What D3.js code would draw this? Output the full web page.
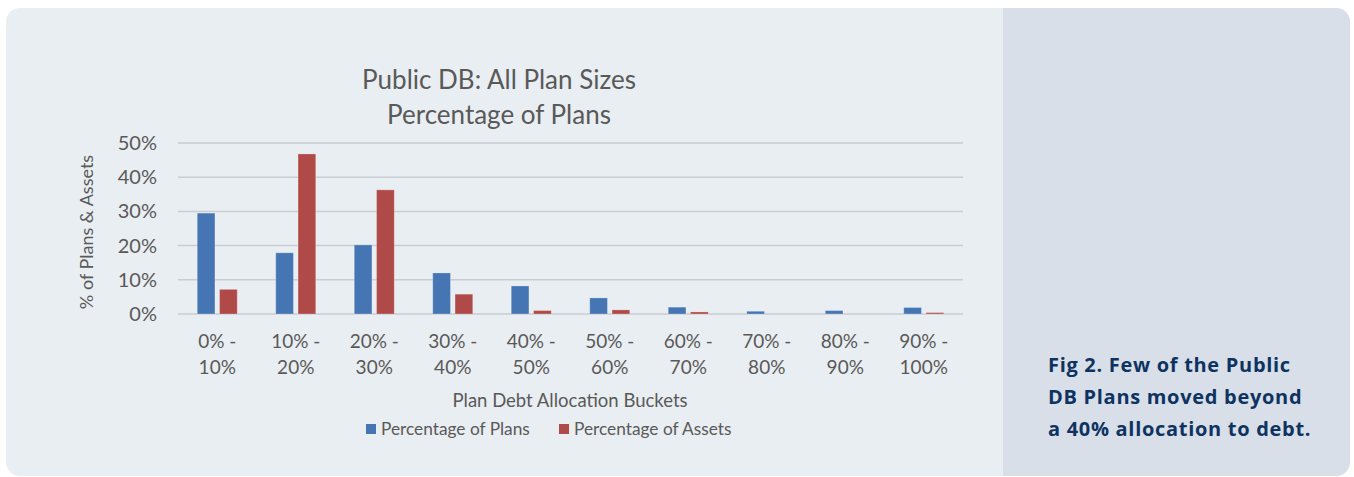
<!DOCTYPE html>
<html>
<meta charset="utf-8">
<style>
    body { margin: 0; background: #fff; }
    #card {
        position: absolute;
        left: 6px; top: 8px;
        width: 1344px; height: 468px;
        border-radius: 14px;
        overflow: hidden;
        background: #e9eef2;
    }
    #side {
        position: absolute;
        left: 997px; top: 0;
        width: 347px; height: 468px;
        background: #d8dfe8;
    }
    #note {
        position: absolute;
        left: 45px; top: 341px;
        font-family: "Open Sans", sans-serif;
        font-weight: 700;
        font-size: 20px;
        letter-spacing: 0.7px;
        line-height: 32px;
        color: #0f3361;
    }
    svg { position: absolute; left: 0; top: 0; }
    .tick text, .lbl { font-family: Lato, "Open Sans", sans-serif; fill: #595959; }
</style>
<body>
  <script src="https://d3js.org/d3.v7.min.js"></script>
<div id="card">
  <div id="side"><div id="note">Fig 2. Few of the Public<br>DB Plans moved beyond<br>a 40% allocation to debt.</div></div>
</div>
<svg id="chart" width="1354" height="477"></svg>
<script>
// chart data
var buckets = ["0% - 10%", "10% - 20%", "20% - 30%", "30% - 40%", "40% - 50%",
               "50% - 60%", "60% - 70%", "70% - 80%", "80% - 90%", "90% - 100%"];
var pctPlans  = [29.5, 17.9, 20.2, 12.0, 8.2, 4.7, 2.0, 0.8, 1.0, 1.9];
var pctAssets = [7.2, 46.8, 36.3, 5.8, 1.0, 1.2, 0.6, 0, 0, 0.4];
var yTicks = [0, 10, 20, 30, 40, 50];
var seriesNames = ["Percentage of Plans", "Percentage of Assets"];
var colors = ["#4675b4", "#b04a48"];

var svg = d3.select("#chart");

var x = d3.scaleBand().domain(buckets).range([178, 963]);
var y = d3.scaleLinear().domain([0, 50]).range([314, 143]);

// gridlines
svg.append("g").selectAll("line")
    .data(yTicks)
    .enter().append("line")
    .attr("x1", 178).attr("x2", 963)
    .attr("y1", function(d) { return y(d); })
    .attr("y2", function(d) { return y(d); })
    .attr("stroke", "#c9cdd3")
    .attr("stroke-width", 1.5);

// y axis labels
var yAxis = d3.axisLeft(y).tickValues(yTicks).tickSize(0).tickPadding(21)
    .tickFormat(function(d) { return d + "%"; });
var gy = svg.append("g").attr("transform", "translate(178,0)").call(yAxis);
gy.select(".domain").remove();
gy.selectAll("text").style("font-size", "20px");

// bars
var barW = 17.7, gap = 4.6;
var series = [pctPlans, pctAssets];
series.forEach(function(vals, s) {
    svg.append("g").selectAll("rect")
        .data(vals)
        .enter().append("rect")
        .attr("x", function(d, i) {
            var c = x(buckets[i]) + x.bandwidth() / 2;
            return s === 0 ? c - gap / 2 - barW : c + gap / 2;
        })
        .attr("y", function(d) { return y(d); })
        .attr("width", barW)
        .attr("height", function(d) { return y(0) - y(d); })
        .attr("fill", colors[s])
        .attr("stroke", "rgba(255,255,255,0.25)")
        .attr("stroke-width", function(d) { return d > 0 ? 1 : 0; });
});

// x labels (two lines)
var xl = svg.append("g").selectAll("text")
    .data(buckets)
    .enter().append("text")
    .attr("class", "lbl")
    .attr("text-anchor", "middle")
    .style("font-size", "19px")
    .attr("x", function(d) { return x(d) + x.bandwidth() / 2; })
    .attr("y", 348);
xl.append("tspan").text(function(d) { return d.split(" - ")[0] + " -"; });
xl.append("tspan")
    .attr("x", function(d) { return x(d) + x.bandwidth() / 2; })
    .attr("dy", 26)
    .text(function(d) { return d.split(" - ")[1]; });

// titles
svg.append("text").attr("class", "lbl").attr("text-anchor", "middle")
    .attr("x", 499).attr("y", 89).style("font-size", "26px")
    .text("Public DB: All Plan Sizes");
svg.append("text").attr("class", "lbl").attr("text-anchor", "middle")
    .attr("x", 499).attr("y", 124).style("font-size", "26px")
    .text("Percentage of Plans");

svg.append("text").attr("class", "lbl").attr("text-anchor", "middle")
    .attr("x", 570).attr("y", 407).style("font-size", "18.5px")
    .text("Plan Debt Allocation Buckets");

svg.append("text").attr("class", "lbl").attr("text-anchor", "middle")
    .attr("transform", "translate(93,232) rotate(-90)")
    .style("font-size", "18px")
    .text("% of Plans & Assets");

// legend
var legX = [366, 559];
var leg = svg.append("g").selectAll("g")
    .data(seriesNames)
    .enter().append("g")
    .attr("transform", function(d, i) { return "translate(" + legX[i] + ",424)"; });
leg.append("rect").attr("width", 10).attr("height", 10)
    .attr("fill", function(d, i) { return colors[i]; });
leg.append("text").attr("class", "lbl").attr("x", 15).attr("y", 11)
    .style("font-size", "17.3px")
    .text(function(d) { return d; });
</script>
</body>
</html>
